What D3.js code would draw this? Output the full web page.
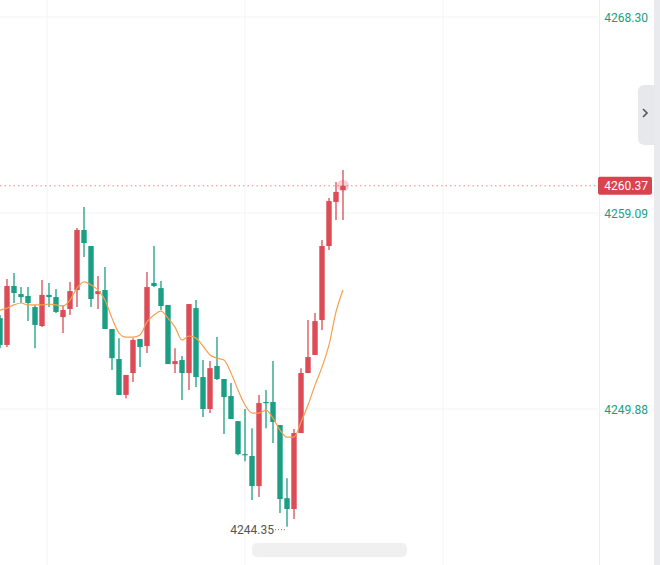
<!DOCTYPE html>
<html><head><meta charset="utf-8">
<script src="https://cdn.jsdelivr.net/npm/d3@7"></script>
<style>body{margin:0;background:#fff}svg{display:block}</style>
</head><body><div id="c"></div>
<script>
const opens  = [4254.15,4252.89,4255.66,4255.28,4255.19,4254.67,4253.78,4255.24,4255.14,4254.20,4254.58,4255.47,4258.29,4257.54,4255.28,4255.47,4253.64,4252.23,4250.54,4251.57,4253.17,4252.84,4255.80,4255.56,4254.77,4251.99,4252.18,4251.57,4254.62,4251.38,4249.88,4251.90,4251.29,4250.49,4249.31,4247.76,4247.67,4246.26,4250.21,4250.21,4249.13,4245.69,4245.18,4248.75,4251.57,4252.42,4254.06,4257.54,4259.61,4260.17];
const highs  = [4254.30,4255.99,4256.27,4255.61,4255.61,4254.77,4255.94,4255.80,4255.52,4254.77,4255.85,4258.38,4259.37,4257.54,4256.13,4256.55,4253.64,4253.21,4251.48,4253.21,4253.17,4256.32,4257.54,4255.89,4254.77,4252.74,4252.37,4254.81,4255.00,4252.18,4252.13,4253.26,4251.29,4251.10,4249.31,4249.88,4248.98,4250.54,4250.77,4252.13,4249.13,4246.63,4248.94,4251.80,4254.06,4254.39,4257.82,4259.79,4260.55,4261.11];
const lows   = [4252.74,4252.79,4254.86,4254.86,4254.01,4252.74,4253.73,4254.67,4254.39,4253.45,4254.30,4254.67,4257.02,4254.67,4254.58,4253.64,4251.71,4250.54,4250.39,4251.15,4251.85,4252.51,4255.61,4254.53,4251.99,4251.57,4250.30,4250.77,4250.91,4249.50,4249.69,4251.24,4248.70,4249.41,4247.71,4247.43,4245.60,4245.74,4248.98,4248.28,4244.99,4244.35,4244.71,4248.75,4251.57,4252.42,4253.59,4257.35,4258.76,4258.76];
const closes = [4252.89,4255.66,4255.33,4255.14,4254.86,4253.83,4255.24,4255.14,4254.44,4254.53,4255.42,4258.29,4257.68,4255.05,4255.42,4253.64,4252.27,4250.54,4251.48,4253.12,4252.79,4255.61,4255.66,4254.72,4251.99,4252.13,4251.57,4254.81,4251.38,4249.88,4251.80,4251.29,4250.44,4249.41,4247.76,4247.71,4246.26,4250.16,4250.16,4249.27,4245.65,4245.18,4248.75,4251.57,4252.32,4254.01,4257.54,4259.65,4260.08,4260.37];
const ma     = [4254.53,4254.62,4254.77,4254.86,4254.77,4254.77,4254.77,4254.81,4254.77,4254.72,4255.00,4255.56,4255.85,4255.71,4255.47,4255.00,4254.15,4253.45,4253.26,4253.26,4253.36,4253.97,4254.30,4254.48,4254.15,4253.73,4253.12,4253.31,4253.21,4252.84,4252.42,4252.27,4252.18,4251.57,4250.77,4250.07,4249.69,4249.69,4249.83,4249.45,4248.89,4248.56,4248.56,4249.27,4250.07,4251.00,4251.85,4252.89,4254.44,4255.47];
const tickValues = [4268.30, 4259.09, 4249.88];
const lastPrice = 4260.37;
const lowLabel = "4244.35";
const lowIndex = 41;

const W=660,H=565;
const UP='#dc4b56', DN='#1a9e84', MA='#f5a04e';
const svg=d3.select('#c').append('svg').attr('width',W).attr('height',H);
const x=d3.scaleLinear().domain([0,49]).range([0,343]);
const y=d3.scaleLinear().domain([4249.88,4268.30]).range([409,17]);

// grid
svg.selectAll('.vg').data([47,245,443]).join('line').attr('x1',d=>d).attr('x2',d=>d).attr('y1',0).attr('y2',H).attr('stroke','#f0f3f6');
svg.selectAll('.hg').data(tickValues).join('line').attr('x1',0).attr('x2',598).attr('y1',d=>y(d)).attr('y2',d=>y(d)).attr('stroke','#f0f3f6');

// axis panel
svg.append('line').attr('x1',599.5).attr('x2',599.5).attr('y1',0).attr('y2',H).attr('stroke','#eceff2');
svg.append('rect').attr('x',654).attr('y',0).attr('width',6).attr('height',H).attr('fill','#e8eaed');
svg.append('path').attr('d','M655,85 L645,85 Q638,85 638,92 L638,138 Q638,145 645,145 L655,145 Z').attr('fill','#e6e8eb');
svg.append('path').attr('d','M643,109 L647,113 L643,117').attr('fill','none').attr('stroke','#555').attr('stroke-width',1.6);

svg.selectAll('.tk').data(tickValues).join('text').attr('x',648).attr('y',d=>y(d)+4.5).attr('text-anchor','end')
  .attr('font-family','Roboto, sans-serif').attr('font-size',12).attr('fill','#1a9e84').text(d=>d.toFixed(2));

// last price line
svg.append('line').attr('x1',0).attr('x2',598).attr('y1',y(lastPrice)).attr('y2',y(lastPrice)).attr('stroke','#e58a92').attr('stroke-dasharray','1.5,3');
svg.append('rect').attr('x',598).attr('y',y(lastPrice)-9).attr('width',54).attr('height',18).attr('rx',2).attr('fill','#d9434f');
svg.append('text').attr('x',648).attr('y',y(lastPrice)+4.5).attr('text-anchor','end').attr('font-family','Roboto, sans-serif').attr('font-size',12).attr('fill','#fff').text(lastPrice.toFixed(2));

// candles
const data=opens.map((o,i)=>({i,o,h:highs[i],l:lows[i],c:closes[i]}));
const g=svg.append('g');
g.selectAll('.w').data(data).join('line').attr('x1',d=>x(d.i)).attr('x2',d=>x(d.i)).attr('y1',d=>y(d.h)).attr('y2',d=>y(d.l))
  .attr('stroke',d=>d.c>=d.o?UP:DN).attr('stroke-width',1.3);
g.selectAll('.b').data(data).join('rect').attr('x',d=>x(d.i)-2.7).attr('width',5.4)
  .attr('y',d=>y(Math.max(d.o,d.c))).attr('height',d=>Math.max(1.2,Math.abs(y(d.o)-y(d.c))))
  .attr('fill',d=>d.c>=d.o?UP:DN);

// MA
svg.append('path').datum(ma).attr('d',d3.line().x((d,i)=>x(i)).y(d=>y(d)).curve(d3.curveMonotoneX))
  .attr('fill','none').attr('stroke',MA).attr('stroke-width',1.2);

// last glow
svg.append('circle').attr('cx',x(49)).attr('cy',y(lastPrice)).attr('r',6).attr('fill',UP).attr('opacity',0.25);

// low label
svg.append('text').attr('x',x(lowIndex)-13).attr('y',y(4244.35)+7).attr('text-anchor','end').attr('font-family','Roboto, sans-serif')
  .attr('font-size',12).attr('fill','#555').text(lowLabel);
svg.append('line').attr('x1',x(lowIndex)-12).attr('x2',x(lowIndex)-2).attr('y1',y(4244.35)+3).attr('y2',y(4244.35)+3).attr('stroke','#777').attr('stroke-dasharray','1,2');

// watermark
svg.append('rect').attr('x',252).attr('y',543).attr('width',155).attr('height',14).attr('rx',5).attr('fill','#e6e6e6').attr('opacity',0.6);
</script></body></html>
